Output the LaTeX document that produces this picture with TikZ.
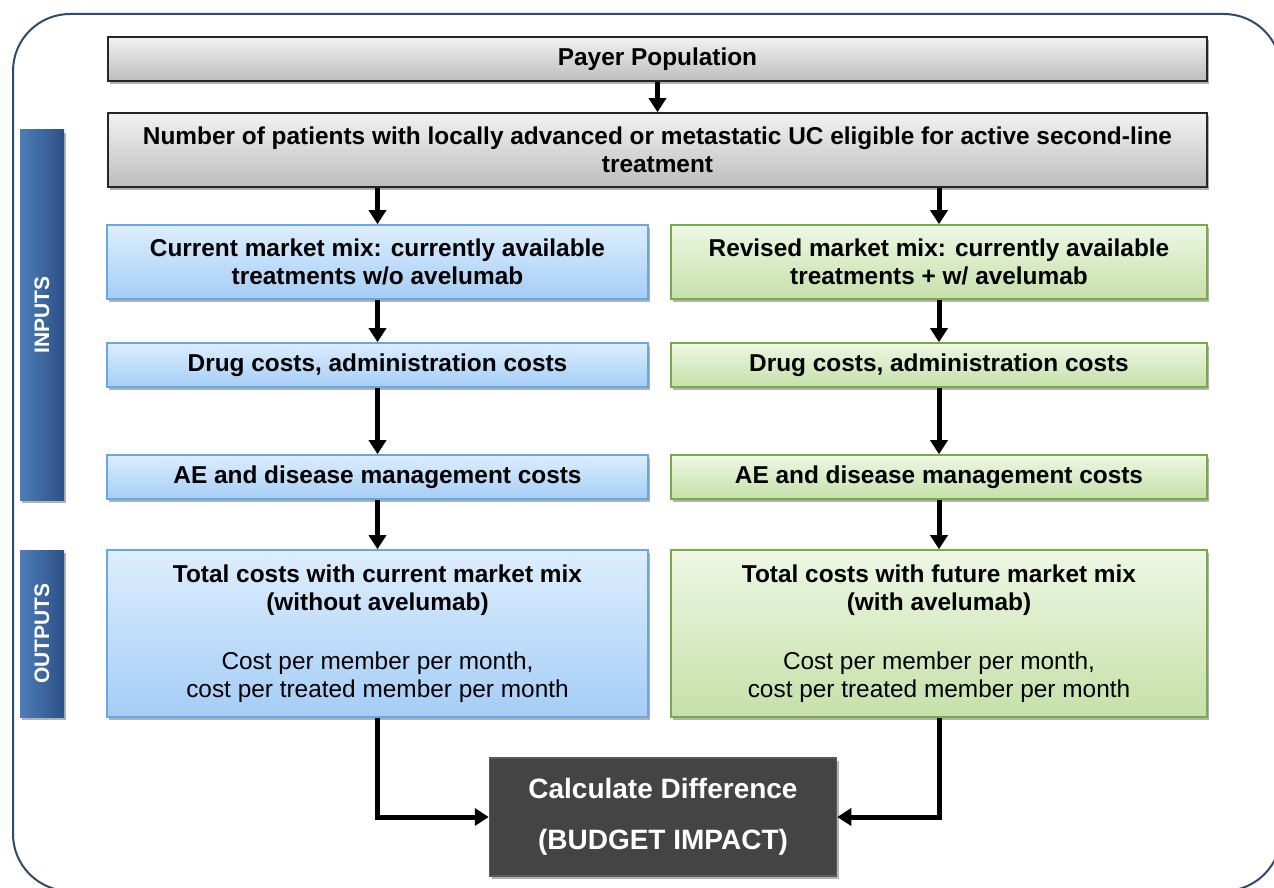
\documentclass[tikz,border=0pt]{standalone}
\usepackage{fontspec}
\setmainfont{Liberation Sans}
\usetikzlibrary{arrows.meta,shadows,calc}
\definecolor{grayT}{HTML}{F2F2F2}
\definecolor{grayB}{HTML}{BDBDBD}
\definecolor{grayE}{HTML}{262626}
\definecolor{blueT}{HTML}{DDEEFE}
\definecolor{blueB}{HTML}{A5CDF6}
\definecolor{blueE}{HTML}{6AA6E0}
\definecolor{greenT}{HTML}{EEF7E4}
\definecolor{greenB}{HTML}{C5E0A8}
\definecolor{greenE}{HTML}{7AA84E}
\definecolor{barL}{HTML}{4D7DBA}
\definecolor{barR}{HTML}{2D5086}
\definecolor{outerE}{HTML}{2E4A6E}
\definecolor{darkbox}{HTML}{444444}
\definecolor{darkE}{HTML}{5A5A5A}
\tikzset{
  shad/.style={drop shadow={shadow xshift=2pt,shadow yshift=-3pt,opacity=0.3,fill=black}},
  box/.style={shad,inner sep=0pt,align=center,font=\fontsize{24.4}{28}\selectfont\bfseries},
  graybox/.style={box,draw=grayE,line width=1.6pt,top color=grayT,bottom color=grayB},
  bluebox/.style={box,draw=blueE,line width=1.6pt,top color=blueT,bottom color=blueB},
  greenbox/.style={box,draw=greenE,line width=1.6pt,top color=greenT,bottom color=greenB},
  sidebar/.style={shad,inner sep=0pt,left color=barL,right color=barR,minimum width=44pt},
  sidelabel/.style={text=white,rotate=90,font=\fontsize{21}{26}\selectfont\bfseries},
  darkbox/.style={shad,inner sep=0pt,align=center,fill=darkbox,draw=darkE,line width=1.5pt,text=white,font=\fontsize{28}{51}\selectfont\bfseries},
  arr/.style={line width=5pt,-{Triangle[width=17pt,length=14pt]}},
}
\begin{document}
\begin{tikzpicture}[x=1pt,y=-1pt]
\useasboundingbox (0,0) rectangle (1274,888);
\clip (0,0) rectangle (1274,888);
\fill[white] (0,0) rectangle (1274,888);
% outer frame
\draw[outerE,line width=2pt,rounded corners=57pt] (13,14) rectangle (1281,891);
% side bars
\node[sidebar,minimum height=370pt] (inbar) at (42,315) {};
\node[sidelabel] (intext) at (inbar.center) {INPUTS};
\node[sidebar,minimum height=167pt] (outbar) at (42,633.5) {};
\node[sidelabel] (outtext) at (outbar.center) {OUTPUTS};
% top boxes
\node[graybox,minimum width=1099pt,minimum height=44pt] (payer) at (657.5,59) {Payer Population};
\node[graybox,minimum width=1099pt,minimum height=74pt] (num) at (657.5,150) {Number of patients with locally advanced or metastatic UC eligible for active second-line\\treatment};
% left column
\node[bluebox,minimum width=541pt,minimum height=74pt] (curmix) at (377.5,262) {Current market mix: currently available\\treatments w/o avelumab};
\node[bluebox,minimum width=541pt,minimum height=44pt] (ldrug) at (377.5,365) {Drug costs, administration costs};
\node[bluebox,minimum width=541pt,minimum height=44pt] (lae) at (377.5,477) {AE and disease management costs};
\node[bluebox,minimum width=541pt,minimum height=167pt] (ltot) at (377.5,633.5) {Total costs with current market mix\\(without avelumab)\\[31pt]\mdseries Cost per member per month,\\\mdseries cost per treated member per month};
% right column
\node[greenbox,minimum width=536pt,minimum height=74pt] (revmix) at (939,262) {Revised market mix: currently available\\treatments + w/ avelumab};
\node[greenbox,minimum width=536pt,minimum height=44pt] (rdrug) at (939,365) {Drug costs, administration costs};
\node[greenbox,minimum width=536pt,minimum height=44pt] (rae) at (939,477) {AE and disease management costs};
\node[greenbox,minimum width=536pt,minimum height=167pt] (rtot) at (939,633.5) {Total costs with future market mix\\(with avelumab)\\[31pt]\mdseries Cost per member per month,\\\mdseries cost per treated member per month};
% result
\node[darkbox,minimum width=347pt,minimum height=118pt] (calc) at (663,817) {Calculate Difference\\(BUDGET IMPACT)};
% arrows
\draw[arr] (payer.south) -- (num.north);
\draw[arr] (num.south -| curmix.north) -- (curmix.north);
\draw[arr] (num.south -| revmix.north) -- (revmix.north);
\draw[arr] (curmix) -- (ldrug);
\draw[arr] (ldrug) -- (lae);
\draw[arr] (lae) -- (ltot);
\draw[arr] (revmix) -- (rdrug);
\draw[arr] (rdrug) -- (rae);
\draw[arr] (rae) -- (rtot);
\draw[arr] (ltot.south) |- (calc.west);
\draw[arr] (rtot.south) |- (calc.east);
\end{tikzpicture}
\end{document}
